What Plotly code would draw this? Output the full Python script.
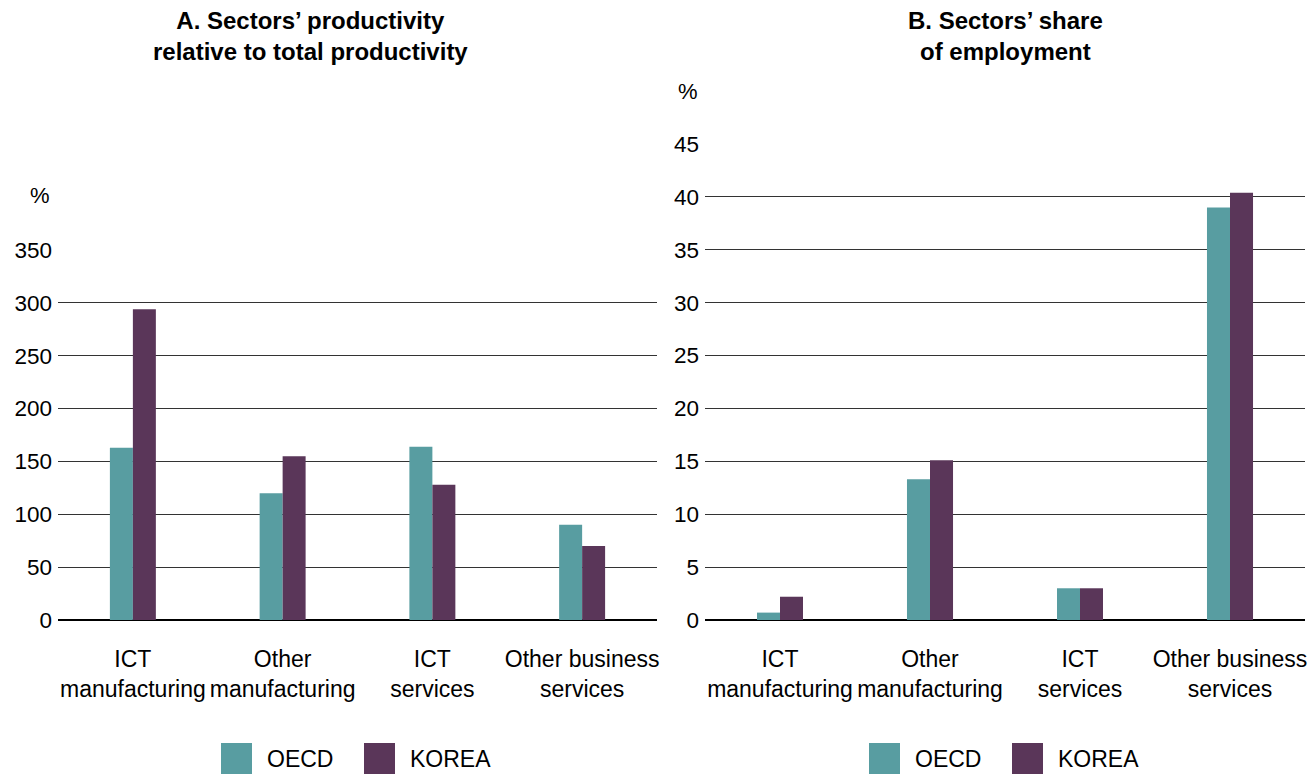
import plotly.graph_objects as go

# Sector labels shared by both panels
sectors = ["ICT<br>manufacturing", "Other<br>manufacturing", "ICT<br>services", "Other business<br>services"]
series_names = ["OECD", "KOREA"]
series_colors = ["#589DA1", "#5A3659"]

# Panel A: productivity relative to total productivity (%)
prod_oecd = [163, 120, 164, 90]
prod_korea = [294, 155, 128, 70]
prod_ticks = [0, 50, 100, 150, 200, 250, 300, 350]

# Panel B: share of employment (%)
emp_oecd = [0.7, 13.3, 3.0, 39.0]
emp_korea = [2.2, 15.1, 3.0, 40.4]
emp_ticks = [0, 5, 10, 15, 20, 25, 30, 35, 40, 45]

W, H = 1315, 774
FONT = "Liberation Sans, Arial, Helvetica, sans-serif"
TXT = 23

def px(x):
    return x / W

def py(y):
    return 1 - y / H

fig = go.Figure()

panels = [
    ("x", "y", [prod_oecd, prod_korea]),
    ("x2", "y2", [emp_oecd, emp_korea]),
]
for xa, ya, vals in panels:
    for name, color, v in zip(series_names, series_colors, vals):
        fig.add_trace(go.Bar(
            x=sectors, y=v, name=name, marker_color=color,
            marker_line_width=0, xaxis=xa, yaxis=ya, showlegend=False,
        ))

axis_common = dict(
    showgrid=True, gridcolor="#333333", gridwidth=1,
    zeroline=True, zerolinecolor="#000000", zerolinewidth=2,
    showline=False, ticks="", fixedrange=True, automargin=False,
    tickfont=dict(family=FONT, size=TXT - 0.5, color="#000000"),
    ticklabelstandoff=5,
)
xaxis_common = dict(
    type="category", showgrid=False, showline=False, ticks="",
    tickfont=dict(family=FONT, size=TXT, color="#000000"),
    ticklabelstandoff=23, fixedrange=True, automargin=False,
)

fig.update_layout(
    width=W, height=H,
    margin=dict(l=0, r=0, t=0, b=0, pad=0, autoexpand=False),
    paper_bgcolor="white", plot_bgcolor="white",
    showlegend=False,
    barmode="group", bargap=0.693, bargroupgap=0,
    font=dict(family=FONT, color="#000000"),
    xaxis=dict(domain=[px(58), px(657)], anchor="y", **xaxis_common),
    xaxis2=dict(domain=[px(705), px(1305)], anchor="y2", **xaxis_common),
    yaxis=dict(domain=[py(620), py(250)], anchor="x", range=[0, 350],
               tickvals=prod_ticks, **axis_common),
    yaxis2=dict(domain=[py(620), py(144)], anchor="x2", range=[0, 45],
                tickvals=emp_ticks, **axis_common),
)

# Panel titles
titles = [
    ("A. Sectors’ productivity<br>relative to total productivity", 310),
    ("B. Sectors’ share<br>of employment", 1005),
]
for text, cx in titles:
    fig.add_annotation(
        text=text, x=px(cx), y=py(5), xref="paper", yref="paper",
        xanchor="center", yanchor="top", showarrow=False, align="center",
        font=dict(family=FONT, size=24, color="#000000", weight="bold"),
    )

# Unit labels above the value axes
for cx, cy in [(40, 196), (688, 92)]:
    fig.add_annotation(
        text="%", x=px(cx), y=py(cy), xref="paper", yref="paper",
        xanchor="center", yanchor="middle", showarrow=False,
        font=dict(family=FONT, size=TXT - 1, color="#000000"),
    )

# Legends under each panel: square swatches with series names
for offset in [0, 648]:
    for i, (name, color) in enumerate(zip(series_names, series_colors)):
        x0 = 221 + offset + i * 143
        fig.add_shape(
            type="rect", xref="paper", yref="paper",
            x0=px(x0), x1=px(x0 + 31), y0=py(774), y1=py(743),
            fillcolor=color, line_width=0,
        )
        fig.add_annotation(
            text=name, x=px(x0 + 44), y=py(759), xref="paper", yref="paper",
            xanchor="left", yanchor="middle", showarrow=False,
            font=dict(family=FONT, size=TXT, color="#000000"),
        )

fig.write_html("out.html")
